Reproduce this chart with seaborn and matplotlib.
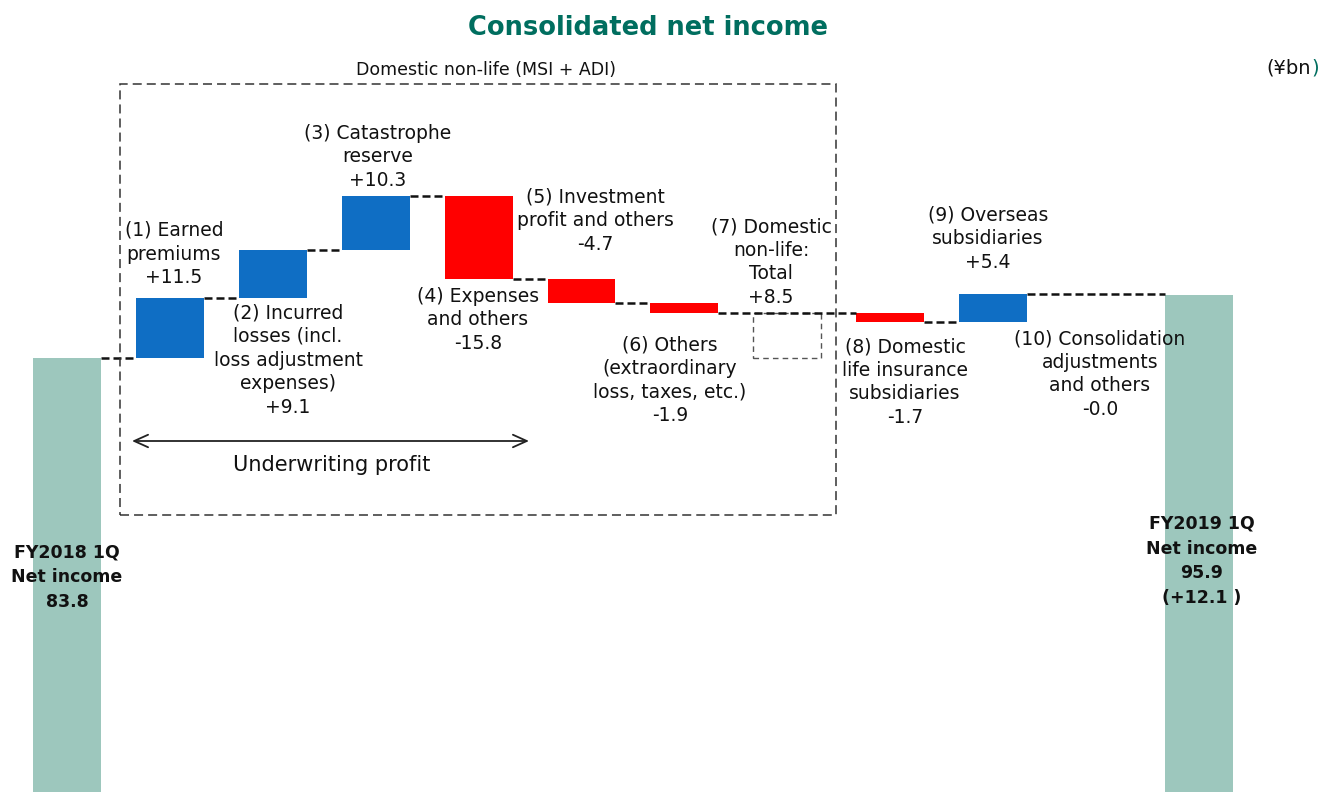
import matplotlib
matplotlib.use("Agg")
import matplotlib.pyplot as plt
import seaborn as sns
import pandas as pd
from matplotlib.patches import Rectangle

# ---------------- data ----------------
items = ["FY2018 1Q", "(1)", "(2)", "(3)", "(4)", "(5)", "(6)", "(7)",
         "(8)", "(9)", "(10)", "FY2019 1Q"]
kinds = ["start", "delta", "delta", "delta", "delta", "delta", "delta",
         "subtotal", "delta", "delta", "delta", "end"]
amounts = [83.8, 11.5, 9.1, 10.3, -15.8, -4.7, -1.9, 8.5, -1.7, 5.4, -0.0, 95.9]
labels = [
    "FY2018 1Q\nNet income\n83.8",
    "(1) Earned\npremiums\n+11.5",
    "(2) Incurred\nlosses (incl.\nloss adjustment\nexpenses)\n+9.1",
    "(3) Catastrophe\nreserve\n+10.3",
    "(4) Expenses\nand others\n-15.8",
    "(5) Investment\nprofit and others\n-4.7",
    "(6) Others\n(extraordinary\nloss, taxes, etc.)\n-1.9",
    "(7) Domestic\nnon-life:\nTotal\n+8.5",
    "(8) Domestic\nlife insurance\nsubsidiaries\n-1.7",
    "(9) Overseas\nsubsidiaries\n+5.4",
    "(10) Consolidation\nadjustments\nand others\n-0.0",
    "FY2019 1Q\nNet income\n95.9\n(+12.1 )",
]
title = "Consolidated net income"
box_title = "Domestic non-life (MSI + ADI)"
arrow_label = "Underwriting profit"
unit_label = "(¥bn"

# ---------------- waterfall geometry ----------------
bottoms, heights, levels = [], [], []
cum = 0.0
base = 0.0
for k, v in zip(kinds, amounts):
    if k == "start":
        bottoms.append(0.0); heights.append(v); cum = v; base = v
    elif k == "delta":
        bottoms.append(min(cum, cum + v)); heights.append(abs(v)); cum += v
    elif k == "subtotal":
        bottoms.append(base); heights.append(v)
    else:
        bottoms.append(0.0); heights.append(v); cum = v
    levels.append(cum)

df = pd.DataFrame({"item": items, "height": heights})

W, H = 1328, 792
fig = plt.figure(figsize=(W / 100, H / 100), dpi=100)
ax = fig.add_axes([0, 0, 1, 1])
BW = 0.66
sns.barplot(data=df, x="item", y="height", order=items, bottom=bottoms,
            width=BW, errorbar=None, color="#9DC7BD", ax=ax, zorder=2)

C_TEAL = "#9DC7BD"
C_BLUE = "#0F6EC4"
C_RED = "#FF0000"
for p, k, v in zip(ax.patches, kinds, amounts):
    p.set_linewidth(0)
    if k in ("start", "end"):
        p.set_facecolor(C_TEAL)
    elif k == "subtotal":
        p.set_facecolor("none")
        p.set_edgecolor("#555555")
        p.set_linewidth(1.0)
        p.set_linestyle((0, (4, 3)))
    else:
        p.set_facecolor(C_BLUE if v > 0 else C_RED)

# connectors
def is_pass(j):
    return kinds[j] == "subtotal" or (kinds[j] == "delta" and abs(amounts[j]) < 0.05)

n = len(items)
i = 0
while i < n - 1:
    x0 = i + BW / 2
    j = i + 1
    while j < n - 1 and is_pass(j):
        j += 1
    x1 = j - BW / 2
    ax.plot([x0, x1], [levels[i], levels[i]], color="#111111", lw=1.8,
            dashes=(3.2, 1.6), zorder=3, solid_capstyle="butt")
    i = j

ax.set_xlim(-0.651, 12.255)
ax.set_ylim(1.0, 152.1)
ax.set_axis_off()

# ---------------- annotations (layout in reference pixels) ----------------
def fp(x, y):
    return x / W, 1 - y / H

label_pos = [(67, 577), (174, 254), (288, 360), (378, 157), (478, 320),
             (595, 221), (670, 380), (771, 262), (905, 382), (988, 239),
             (1100, 374), (1202, 561)]
for (x, y), txt, k in zip(label_pos, labels, kinds):
    if k in ("start", "end"):
        fig.text(*fp(x, y), txt, ha="center", va="center", fontsize=12.5,
                 fontweight="bold", color="#111111", linespacing=1.48, zorder=5)
    else:
        fig.text(*fp(x, y), txt, ha="center", va="center", fontsize=13.5,
                 color="#111111", linespacing=1.31, zorder=5)

fig.text(*fp(648, 28), title, ha="center", va="center", fontsize=18.5,
         fontweight="bold", color="#006E5F")
fig.text(*fp(486, 70), box_title, ha="center", va="center", fontsize=12.5,
         color="#111111")
fig.text(*fp(1311, 68), unit_label, ha="right", va="center", fontsize=14,
         color="#111111")
fig.text(*fp(1311, 68), ")", ha="left", va="center", fontsize=14,
         color="#006E5F")

# dashed box around domestic non-life
x0, y0 = fp(120, 515)
x1, y1 = fp(836, 84)
fig.patches.append(Rectangle((x0, y0), x1 - x0, y1 - y0, transform=fig.transFigure,
                             fill=False, edgecolor="#333333", lw=1.1,
                             linestyle=(0, (5.9, 3.3)), zorder=4))

# underwriting profit arrow
ax_arrow = fig.add_axes([0, 0, 1, 1], facecolor="none")
ax_arrow.set_xlim(0, W); ax_arrow.set_ylim(H, 0); ax_arrow.set_axis_off()
ax_arrow.annotate("", xy=(529, 441), xytext=(132, 441),
                  arrowprops=dict(arrowstyle="<->,head_length=1.0,head_width=0.45",
                                  color="#222222", lw=1.3, shrinkA=0, shrinkB=0))
fig.text(*fp(332, 465), arrow_label, ha="center", va="center", fontsize=15,
         color="#111111")

fig.savefig("out.png", dpi=100)
